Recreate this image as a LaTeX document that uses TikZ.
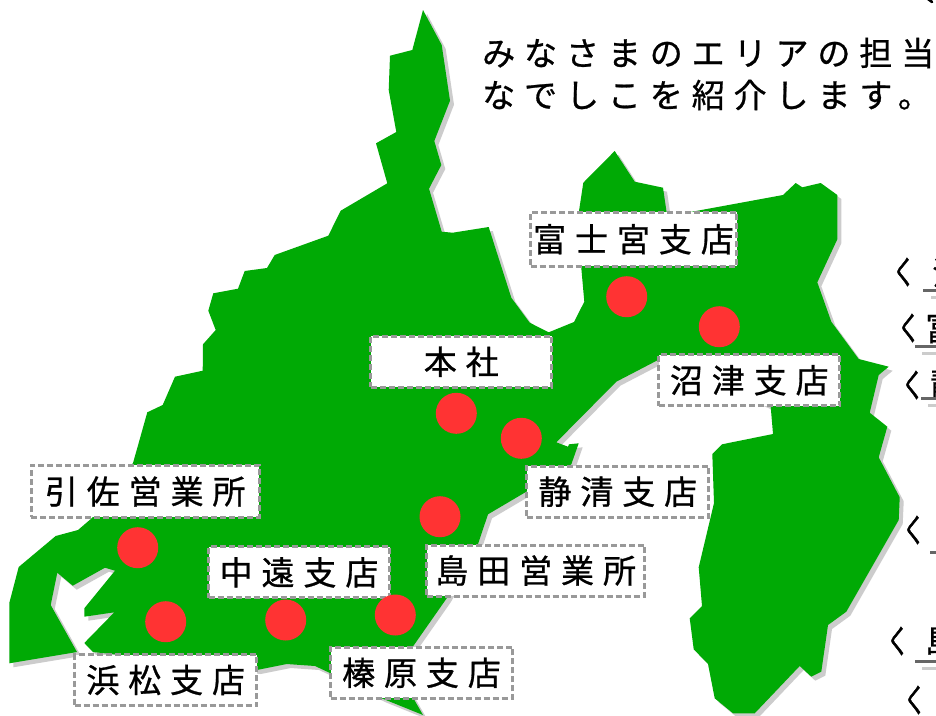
\documentclass[tikz,border=0pt]{standalone}
\usepackage{fontspec}
\newfontfamily\jp[FakeBold=0.8]{Noto Sans CJK JP}
\newfontfamily\jpnarrow[FakeBold=1.2,FakeStretch=0.68]{Noto Sans CJK JP}
\newfontfamily\jpsp[LetterSpace=27,FakeBold=0.8]{Noto Sans CJK JP}
\definecolor{land}{HTML}{00AA05}
\definecolor{landshadow}{HTML}{CCCCCC}
\definecolor{pin}{HTML}{FF3333}
\definecolor{dashgray}{HTML}{999999}
\definecolor{underdark}{HTML}{666666}
\newcommand{\coastline}{(423,10) -- (441.7,45) -- (450,100.7) -- (434.3,141) -- (441.3,165) -- (429,188.7) -- (441.7,231.7) -- (452.7,232.7) -- (488.7,227) -- (496,250) -- (511.3,297.7) -- (529.7,322.7) -- (548.7,332.3) -- (574,322) -- (584.3,301.7) -- (581.3,268) -- (579,211) -- (583.3,182.7) -- (614.7,151) -- (634.7,181.7) -- (663,187.7) -- (667,215) -- (685,213) -- (783,195) -- (795.7,183) -- (802.3,187.3) -- (820.7,183) -- (837.3,195) -- (837.3,239.3) -- (817.3,282.3) -- (831.3,321.7) -- (858.7,359) -- (888.7,366.7) -- (878.7,375) -- (869.7,412.7) -- (887.3,426.7) -- (878.7,457.3) -- (899.7,497.3) -- (898.7,520) -- (846.3,611.7) -- (828,625) -- (821.3,671.7) -- (811.3,676.7) -- (799.7,666) -- (754.7,713.3) -- (733,713.3) -- (714.7,698.3) -- (708,664) -- (693.7,649.3) -- (689.7,618.3) -- (702,606) -- (698.7,567.3) -- (714,503) -- (712.3,454) -- (722,444.3) -- (773,434) -- (770.7,406.7) -- (658,360) -- (616.3,381.7) -- (556.3,442.3) -- (568,446.7) -- (569,444.3) -- (578.7,443.3) -- (571.3,464.3) -- (526.3,491.7) -- (488,514.3) -- (478,544) -- (446.7,598.3) -- (413.3,646) -- (400,675) -- (423,715) -- (381.7,698.3) -- (330,673) -- (315,666) -- (286.7,664) -- (256.7,670) -- (93,652) -- (84.3,643) -- (114.3,612.3) -- (84.3,616.7) -- (84.3,608.3) -- (115,570.7) -- (105,567.7) -- (72.7,585.7) -- (57.3,572.7) -- (50.7,605) -- (77,652) -- (9.3,663.3) -- (9.3,603) -- (18.7,567) -- (55.7,536) -- (78,530) -- (92,518) -- (133,463) -- (136.7,450) -- (147.3,412.3) -- (162.7,405) -- (175,376.7) -- (202.7,370.7) -- (203,344.3) -- (215.7,330) -- (208.3,310.7) -- (213.3,293.3) -- (238,288.7) -- (244.7,271) -- (267,268) -- (274.7,255) -- (328.3,235.7) -- (340.7,210.7) -- (387.3,183.3) -- (376,143.3) -- (396.3,132) -- (388.7,90) -- (390,55.7) -- (412.3,50) -- cycle}
\tikzset{
  lbl/.style={draw=dashgray,fill=white,line width=3pt,dash pattern=on 6pt off 3pt,rectangle,inner sep=0pt,outer sep=0pt,text=black,font=\jpsp\fontsize{33}{40}\selectfont},
  pinmark/.style={circle,fill=pin,draw=none,minimum size=41pt,inner sep=0pt},
  head/.style={anchor=west,inner sep=0pt,font=\jpsp\fontsize{33}{40}\selectfont},
  chev/.style={inner sep=0pt,font=\jpnarrow\fontsize{33}{40}\selectfont},
  frag/.style={anchor=west,inner sep=0pt,font=\jp\fontsize{33}{40}\selectfont},
  udark/.style={draw=underdark,line width=3pt},
  ulight/.style={draw=landshadow,line width=3pt}
}
\begin{document}
\begin{tikzpicture}[x=1pt,y=-1pt]
\useasboundingbox (0,0) rectangle (936,715);
\clip (0,0) rectangle (936,715);
\fill[white] (0,0) rectangle (936,715);
\fill[landshadow,xshift=4pt,yshift=-4pt] \coastline;
\fill[land] \coastline;
% labels
\node[lbl,minimum width=228pt,minimum height=52pt] (inasa) at (145.2,491.4) {引佐営業所};
\node[lbl,minimum width=181pt,minimum height=51pt] (chuen) at (299,572.4) {中遠支店};
\node[lbl,minimum width=218pt,minimum height=51pt] (shimada) at (535.7,570.5) {島田営業所};
\node[lbl,minimum width=182pt,minimum height=51pt] (hamamatsu) at (165.7,680) {浜松支店};
\node[lbl,minimum width=182pt,minimum height=51pt] (haibara) at (421.5,672.8) {榛原支店};
\node[lbl,minimum width=206pt,minimum height=54pt] (fujinomiya) at (633.5,239.3) {富士宮支店};
\node[lbl,minimum width=181pt,minimum height=51pt] (honsha) at (461.3,361.7) {本社};
\node[lbl,minimum width=181pt,minimum height=51pt] (numazu) at (749.3,380.3) {沼津支店};
\node[lbl,minimum width=182pt,minimum height=51pt] (seishin) at (617.8,491.7) {静清支店};
% pins
\node[pinmark] (p1) at (137.7,547.7) {};
\node[pinmark] (p2) at (165.7,621.7) {};
\node[pinmark] (p3) at (285.7,620) {};
\node[pinmark] (p4) at (395.3,615) {};
\node[pinmark] (p5) at (440,516.7) {};
\node[pinmark] (p6) at (456.3,413.3) {};
\node[pinmark] (p7) at (521.3,438.3) {};
\node[pinmark] (p8) at (626.7,296.7) {};
\node[pinmark] (p9) at (719.3,326.7) {};
% heading
\node[head] (h1) at (482,53) {みなさまのエリアの担当};
\node[head] (h2) at (482,95) {なでしこを紹介します。};
% right column, cut by the page edge
\node[chev] (c1) at (904,272) {く};
\node[chev] (c2) at (909,328) {く};
\node[chev] (c3) at (913,385) {く};
\node[chev] (c4) at (914,530) {く};
\node[chev] (c5) at (898,641) {く};
\node[chev] (c6) at (915,700) {く};
\node[frag] (f1) at (932,273) {沼};
\node[frag] (f2) at (925,328) {富};
\node[frag] (f3) at (930,383) {静};
\node[frag] (f5) at (925,640) {島};
\coordinate (u1a) at (923,290); \coordinate (u1b) at (936,290);
\coordinate (v1a) at (931,297); \coordinate (v1b) at (936,297);
\coordinate (u2a) at (915,346); \coordinate (u2b) at (936,346);
\coordinate (v2a) at (922,353); \coordinate (v2b) at (936,353);
\coordinate (u3a) at (921,398); \coordinate (u3b) at (936,398);
\coordinate (v3a) at (928,405); \coordinate (v3b) at (936,405);
\coordinate (u4a) at (930,552); \coordinate (u4b) at (936,552);
\coordinate (u5a) at (915,661); \coordinate (u5b) at (936,661);
\coordinate (v5a) at (922,668); \coordinate (v5b) at (936,668);
\draw[udark] (u1a) -- (u1b); \draw[ulight] (v1a) -- (v1b);
\draw[udark] (u2a) -- (u2b); \draw[ulight] (v2a) -- (v2b);
\draw[udark] (u3a) -- (u3b); \draw[ulight] (v3a) -- (v3b);
\draw[udark] (u4a) -- (u4b);
\draw[udark] (u5a) -- (u5b); \draw[ulight] (v5a) -- (v5b);
\coordinate (t1) at (928,-1); \coordinate (t2) at (932,2);
\draw[black,line width=2.6pt,line cap=round] (t1) -- (t2);
\end{tikzpicture}
\end{document}
